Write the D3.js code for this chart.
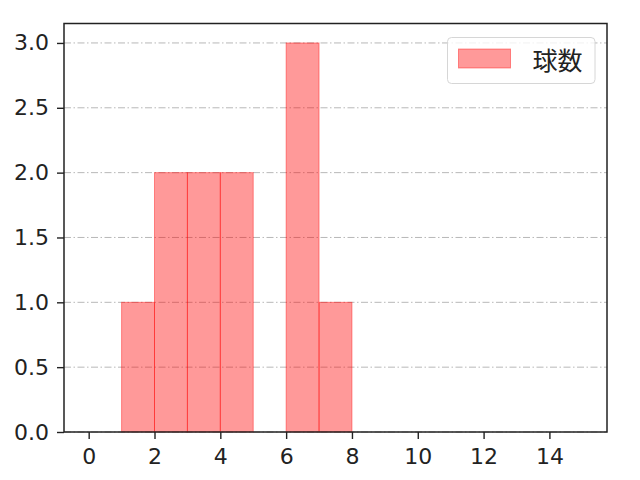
<!DOCTYPE html>
<html>
<head>
<meta charset="utf-8">
<script src="https://cdn.jsdelivr.net/npm/d3@7"></script>
<style>
  body { margin: 0; background: #fff; overflow: hidden; }
  svg { display: block; }
</style>
</head>
<body>
<div id="chart"></div>
<script>
// --------------------------------------
//  Data
// --------------------------------------
const binStarts = [1, 2, 3, 4, 6, 7];
const binCounts = [1, 2, 2, 2, 3, 1];
const binWidth = 1;
const xTicks = [0, 2, 4, 6, 8, 10, 12, 14];
const yTicks = [0, 0.5, 1.0, 1.5, 2.0, 2.5, 3.0];
const seriesLabel = "球数";

// --------------------------------------
//  Margin and canvas
// --------------------------------------
const margin = {top: 23.5, right: 33, bottom: 48, left: 64};
const width = 640;
const height = 480;
const innerWidth = width - margin.left - margin.right;
const innerHeight = height - margin.top - margin.bottom;

const svg = d3.select("#chart")
  .append("svg")
    .attr("width", width)
    .attr("height", height);

const inner = svg.append("g")
    .attr("transform", `translate(${margin.left}, ${margin.top})`);

// --------------------------------------
//  Scales
// --------------------------------------
const x = d3.scaleLinear()
    .domain([-0.75, 15.75])
    .range([0, innerWidth]);

const y = d3.scaleLinear()
    .domain([0, 3.15])
    .range([innerHeight, 0]);

// --------------------------------------
//  Grid
// --------------------------------------
inner.append("g")
  .selectAll("line")
  .data(yTicks)
  .join("line")
    .attr("x1", 0)
    .attr("x2", innerWidth)
    .attr("y1", d => y(d))
    .attr("y2", d => y(d))
    .attr("stroke", "#b0b0b0")
    .attr("stroke-width", 0.9)
    .attr("stroke-dasharray", "7,2.5,1.5,2.5");

// --------------------------------------
//  Bars
// --------------------------------------
inner.append("g")
  .selectAll("rect")
  .data(binStarts.map((s, i) => ({start: s, count: binCounts[i]})))
  .join("rect")
    .attr("x", d => x(d.start))
    .attr("y", d => y(d.count))
    .attr("width", d => x(d.start + binWidth) - x(d.start))
    .attr("height", d => y(0) - y(d.count))
    .attr("fill", "red")
    .attr("fill-opacity", 0.4)
    .attr("stroke", "red")
    .attr("stroke-opacity", 0.4)
    .attr("stroke-width", 1);

// --------------------------------------
//  Axes
// --------------------------------------
const xAxis = inner.append("g")
    .attr("transform", `translate(0, ${innerHeight})`)
    .call(d3.axisBottom(x)
      .tickValues(xTicks)
      .tickFormat(d3.format("d"))
      .tickSize(7)
      .tickPadding(9));

const yAxis = inner.append("g")
    .call(d3.axisLeft(y)
      .tickValues(yTicks)
      .tickFormat(d3.format(".1f"))
      .tickSize(7)
      .tickPadding(8));

[xAxis, yAxis].forEach(g => {
  g.attr("font-family", "DejaVu Sans")
   .attr("font-size", 22);
  g.select(".domain").remove();
  g.selectAll(".tick line").attr("stroke", "#222").attr("stroke-width", 1.4);
  g.selectAll(".tick text").attr("fill", "#222");
});

// frame
inner.append("rect")
    .attr("width", innerWidth)
    .attr("height", innerHeight)
    .attr("fill", "none")
    .attr("stroke", "#222")
    .attr("stroke-width", 1.5);

// --------------------------------------
//  Legend
// --------------------------------------
const legend = svg.append("g")
    .attr("transform", "translate(447.5, 37.5)");

legend.append("rect")
    .attr("width", 147.5)
    .attr("height", 46)
    .attr("rx", 4)
    .attr("fill", "white")
    .attr("fill-opacity", 0.8)
    .attr("stroke", "#d6d6d6")
    .attr("stroke-width", 1);

legend.append("rect")
    .attr("x", 11)
    .attr("y", 11.5)
    .attr("width", 52)
    .attr("height", 19)
    .attr("fill", "red")
    .attr("fill-opacity", 0.4)
    .attr("stroke", "red")
    .attr("stroke-opacity", 0.4);

legend.append("text")
    .attr("x", 85)
    .attr("y", 32)
    .attr("fill", "#222")
    .attr("font-family", "Noto Sans CJK JP")
    .attr("font-size", 25)
    .text(seriesLabel);
</script>
</body>
</html>
